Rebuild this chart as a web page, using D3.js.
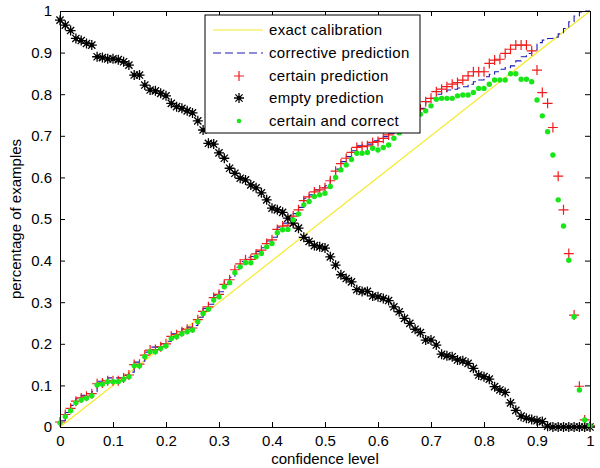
<!DOCTYPE html>
<html><head><meta charset="utf-8">
<script src="https://cdn.jsdelivr.net/npm/d3@7"></script>
<style>
body{margin:0;background:#fff;}
svg{display:block;font-family:"Liberation Sans",Arial,sans-serif;}
</style></head>
<body><svg id="chart" width="600" height="468"></svg>
<script>
// confidence levels 0, 0.01, ..., 1
const confidence = d3.range(0, 101).map(i => i / 100);
const xTicks = [0,0.1,0.2,0.3,0.4,0.5,0.6,0.7,0.8,0.9,1];
const yTicks = [0,0.1,0.2,0.3,0.4,0.5,0.6,0.7,0.8,0.9,1];
const tickLabels = ["0","0.1","0.2","0.3","0.4","0.5","0.6","0.7","0.8","0.9","1"];

const exactCalibration = [[0,0],[1,1]];

const corrective = [0.015,0.035,0.052,0.068,0.076,0.080,0.085,0.110,0.112,0.118,
0.118,0.118,0.124,0.132,0.156,0.158,0.180,0.192,0.192,0.200,
0.206,0.224,0.228,0.236,0.240,0.244,0.264,0.285,0.295,0.317,
0.325,0.350,0.360,0.384,0.398,0.408,0.410,0.422,0.431,0.447,
0.456,0.480,0.490,0.492,0.513,0.528,0.550,0.558,0.570,0.575,
0.580,0.598,0.620,0.638,0.650,0.664,0.676,0.678,0.680,0.688,
0.690,0.698,0.706,0.720,0.732,0.746,0.754,0.760,0.766,0.782,
0.790,0.800,0.806,0.810,0.812,0.815,0.818,0.824,0.830,0.834,
0.842,0.848,0.854,0.860,0.864,0.868,0.880,0.890,0.898,0.906,
0.924,0.930,0.934,0.937,0.945,0.958,0.974,0.988,0.998,1.000,1.000];

const certain = [0.012,0.030,0.045,0.062,0.070,0.074,0.080,0.104,0.106,0.111,
0.111,0.111,0.118,0.125,0.150,0.151,0.173,0.185,0.186,0.193,
0.200,0.218,0.222,0.229,0.235,0.238,0.258,0.278,0.289,0.311,
0.319,0.343,0.354,0.378,0.392,0.402,0.403,0.416,0.425,0.441,
0.450,0.475,0.483,0.485,0.507,0.522,0.544,0.553,0.565,0.570,
0.575,0.592,0.615,0.633,0.646,0.660,0.672,0.674,0.676,0.684,
0.686,0.694,0.702,0.716,0.728,0.744,0.752,0.758,0.764,0.782,
0.790,0.806,0.812,0.818,0.824,0.828,0.834,0.844,0.854,0.854,
0.854,0.874,0.882,0.884,0.898,0.908,0.918,0.918,0.918,0.904,
0.858,0.804,0.778,0.720,0.603,0.522,0.417,0.269,0.098,0.017,0.003];

const empty = [0.978,0.966,0.953,0.934,0.929,0.922,0.918,0.890,0.888,0.885,
0.885,0.883,0.878,0.870,0.846,0.846,0.822,0.810,0.808,0.802,
0.796,0.778,0.770,0.766,0.760,0.755,0.736,0.714,0.682,0.680,
0.659,0.646,0.622,0.610,0.598,0.594,0.582,0.575,0.563,0.546,
0.526,0.522,0.516,0.502,0.490,0.478,0.456,0.446,0.436,0.433,
0.430,0.409,0.389,0.366,0.357,0.349,0.330,0.326,0.326,0.315,
0.313,0.309,0.304,0.289,0.277,0.261,0.249,0.235,0.227,0.209,
0.209,0.197,0.175,0.171,0.169,0.161,0.159,0.153,0.141,0.125,
0.121,0.115,0.097,0.089,0.083,0.058,0.040,0.026,0.021,0.018,
0.015,0.013,0.002,0,0,0,0,0,0,0,0];

const certainCorrect = [0.010,0.025,0.039,0.058,0.065,0.069,0.075,0.101,0.103,0.109,
0.109,0.109,0.115,0.121,0.147,0.147,0.169,0.181,0.181,0.189,
0.195,0.213,0.217,0.224,0.229,0.233,0.253,0.273,0.283,0.305,
0.313,0.337,0.347,0.371,0.385,0.395,0.395,0.409,0.417,0.433,
0.441,0.467,0.474,0.475,0.498,0.512,0.534,0.542,0.554,0.558,
0.562,0.578,0.600,0.618,0.630,0.643,0.658,0.658,0.660,0.670,
0.666,0.672,0.678,0.694,0.707,0.724,0.734,0.748,0.752,0.760,
0.772,0.788,0.790,0.790,0.790,0.796,0.798,0.798,0.804,0.814,
0.814,0.824,0.834,0.834,0.834,0.849,0.849,0.836,0.836,0.830,
0.786,0.748,0.710,0.654,0.546,0.483,0.401,0.265,0.089,0.017,0.003];

const legendLabels = ["exact calibration","corrective prediction","certain prediction","empty prediction","certain and correct"];

const COL = {yellow:"#f4ea2a", blue:"#1a1ab4", red:"#ee1c1c", black:"#000", green:"#19e619"};

const svg = d3.select("#chart");
const x = d3.scaleLinear([0,1],[60,590]);
const y = d3.scaleLinear([0,1],[427,11]);

svg.append("rect").attr("x",60).attr("y",11).attr("width",530).attr("height",416).attr("fill","#fff");

const plusPath = "M-5,0H5M0,-5V5";
const starPath = "M-5,0H5M0,-5V5M-3.6,-3.6L3.6,3.6M-3.6,3.6L3.6,-3.6";

const pts = arr => confidence.map((c,i)=>[c,arr[i]]);

// exact calibration
svg.append("path").attr("d", d3.line().x(d=>x(d[0])).y(d=>y(d[1]))(exactCalibration))
  .attr("fill","none").attr("stroke",COL.yellow).attr("stroke-width",1.2);

// corrective prediction
svg.append("path").attr("d", d3.line().x(d=>x(d[0])).y(d=>y(Math.min(d[1],1))).curve(d3.curveStepAfter)(pts(corrective)))
  .attr("fill","none").attr("stroke",COL.blue).attr("stroke-width",1.1).attr("stroke-dasharray","7,4");

// certain prediction
svg.append("g").selectAll("path").data(pts(certain)).join("path")
  .attr("transform",d=>`translate(${x(d[0])},${y(d[1])})`).attr("d",plusPath)
  .attr("stroke",COL.red).attr("stroke-width",1.2).attr("fill","none");

// empty prediction
const eg = svg.append("g");
eg.selectAll("path").data(pts(empty)).join("path")
  .attr("transform",d=>`translate(${x(d[0])},${y(d[1])})`).attr("d",starPath)
  .attr("stroke",COL.black).attr("stroke-width",1.3).attr("fill","none");
eg.selectAll("circle").data(pts(empty)).join("circle")
  .attr("cx",d=>x(d[0])).attr("cy",d=>y(d[1])).attr("r",2).attr("fill","#000");

// certain and correct
svg.append("g").selectAll("circle").data(pts(certainCorrect)).join("circle")
  .attr("cx",d=>x(d[0])).attr("cy",d=>y(d[1])).attr("r",2.7).attr("fill",COL.green);

// axes box
const fmt = d => tickLabels[xTicks.indexOf(d)];
const axB = svg.append("g").attr("transform","translate(0,427)")
  .call(d3.axisBottom(x).tickValues(xTicks).tickSize(-5).tickPadding(8).tickFormat(fmt));
const axT = svg.append("g").attr("transform","translate(0,11)")
  .call(d3.axisTop(x).tickValues(xTicks).tickSize(-5).tickFormat(""));
const axL = svg.append("g").attr("transform","translate(60,0)")
  .call(d3.axisLeft(y).tickValues(yTicks).tickSize(-5).tickPadding(8).tickFormat(d=>tickLabels[yTicks.indexOf(d)]));
const axR = svg.append("g").attr("transform","translate(590,0)")
  .call(d3.axisRight(y).tickValues(yTicks).tickSize(-5).tickFormat(""));
[axB,axT,axL,axR].forEach(g=>{
  g.select(".domain").attr("stroke","#000").attr("stroke-width",1);
  g.selectAll(".tick line").attr("stroke","#000");
  g.selectAll("text").attr("font-size",15).attr("fill","#000").attr("font-family","'Liberation Sans',Arial,sans-serif");
});

svg.append("text").attr("x",325).attr("y",464).attr("text-anchor","middle")
  .attr("font-size",15).text("confidence level");
svg.append("text").attr("transform","translate(21,219) rotate(-90)").attr("text-anchor","middle")
  .attr("font-size",15).text("percentage of examples");

// legend
const lg = svg.append("g");
lg.append("rect").attr("x",205).attr("y",15).attr("width",215).attr("height",118)
  .attr("fill","#fff").attr("stroke","#000").attr("stroke-width",1);
const rowY = [30,53,76,98,121];
legendLabels.forEach((t,i)=>{
  lg.append("text").attr("x",269).attr("y",rowY[i]).attr("dy","0.36em").attr("font-size",15).attr("letter-spacing",0.3).text(t);
});
lg.append("line").attr("x1",213).attr("x2",263).attr("y1",rowY[0]).attr("y2",rowY[0]).attr("stroke",COL.yellow).attr("stroke-width",1.2);
lg.append("line").attr("x1",213).attr("x2",263).attr("y1",rowY[1]).attr("y2",rowY[1]).attr("stroke",COL.blue).attr("stroke-width",1.1).attr("stroke-dasharray","8,4");
lg.append("path").attr("transform",`translate(239,${rowY[2]})`).attr("d",plusPath).attr("stroke",COL.red).attr("stroke-width",1.2);
lg.append("path").attr("transform",`translate(239,${rowY[3]})`).attr("d",starPath).attr("stroke","#000").attr("stroke-width",1.3);
lg.append("circle").attr("cx",239).attr("cy",rowY[3]).attr("r",2).attr("fill","#000");
lg.append("circle").attr("cx",239).attr("cy",rowY[4]).attr("r",2.3).attr("fill",COL.green);
</script></body></html>
